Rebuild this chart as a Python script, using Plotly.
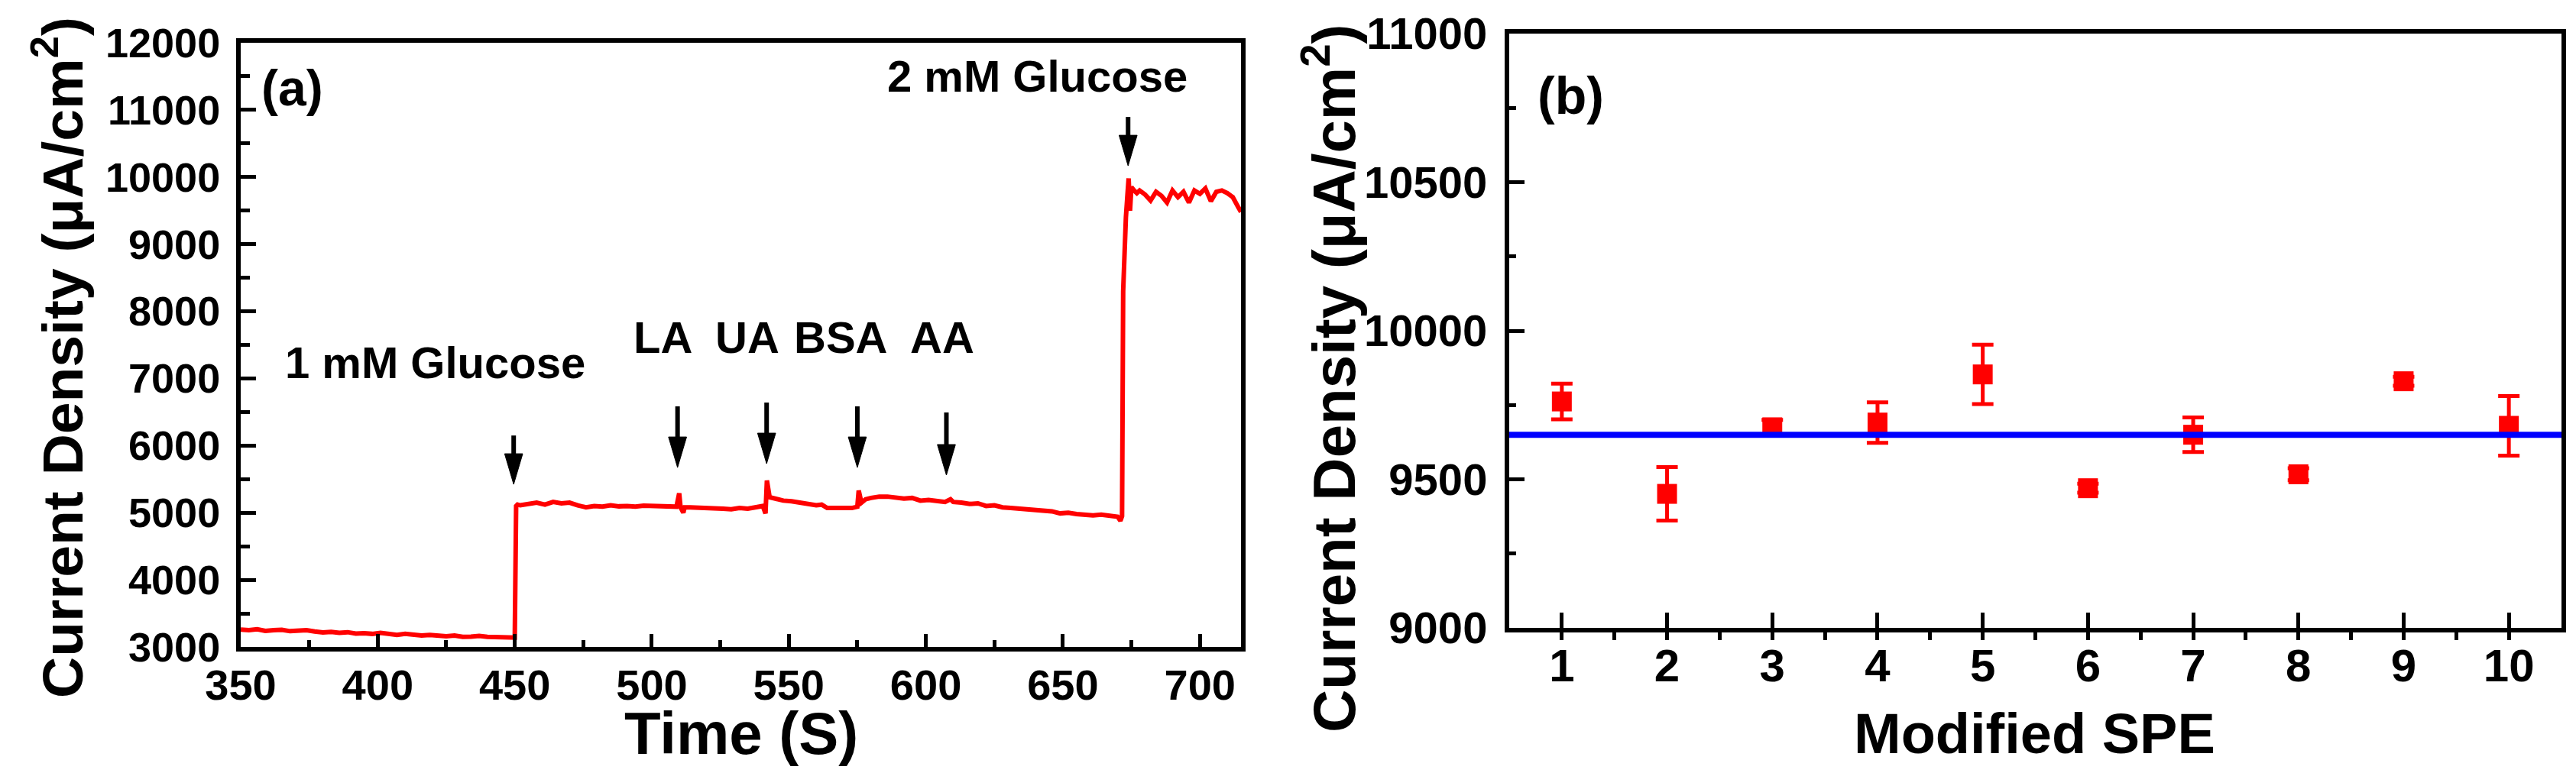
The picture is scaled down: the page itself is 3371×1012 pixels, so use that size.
import plotly.graph_objects as go

# ---- panel (a): amperometric response, time (s) vs current density ----
time_s = [350, 353, 356, 359, 362, 365, 368, 371, 374, 377, 380, 383, 386, 389, 392, 395, 398,
          401, 404, 407, 410, 413, 416, 419, 422, 425, 428, 431, 434, 437, 440, 443, 446, 449,
          450, 450.5, 451, 452, 455, 458, 461, 464, 467, 470, 473, 476, 479, 482, 485, 488,
          491, 494, 497, 500, 503, 506, 509, 510, 510.5, 511.5, 512, 514, 517, 520, 523, 526,
          529, 532, 535, 538, 540.5, 541.5, 542, 543, 545, 548, 551, 554, 557, 560, 562, 564,
          567, 570, 573, 575, 575.5, 576.5, 578, 580, 583, 586, 589, 592, 595, 598, 601, 604,
          607, 609, 610, 613, 616, 619, 622, 625, 628, 631, 634, 637, 640, 643, 646, 649, 652,
          655, 658, 661, 664, 667, 670, 671, 671.6, 672, 672.5, 673, 673.5, 674, 674.5, 675,
          676, 677, 678, 680, 682, 684, 686, 688, 690, 692, 694, 696, 698, 700, 702, 704, 706,
          708, 710, 712, 714, 715]
current_a = [3260, 3250, 3265, 3240, 3250, 3255, 3235, 3245, 3250, 3230, 3215, 3225, 3210, 3220,
             3200, 3205, 3195, 3210, 3190, 3180, 3195, 3175, 3170, 3180, 3165, 3160, 3170, 3150,
             3155, 3165, 3150, 3145, 3155, 3150, 3140, 5100, 5120, 5110, 5130, 5150, 5120, 5160,
             5140, 5150, 5110, 5080, 5100, 5090, 5110, 5095, 5100, 5090, 5105, 5100, 5095, 5100,
             5090, 5290, 5080, 5000, 5080, 5080, 5075, 5070, 5080, 5060, 5050, 5070, 5060, 5080,
             5100, 4990, 5480, 5230, 5210, 5180, 5170, 5150, 5140, 5110, 5120, 5070, 5070, 5070,
             5070, 5090, 5330, 5150, 5200, 5220, 5240, 5240, 5230, 5210, 5220, 5180, 5190, 5170,
             5160, 5200, 5160, 5150, 5130, 5140, 5100, 5110, 5080, 5070, 5060, 5050, 5040, 5030,
             5020, 4990, 5000, 4980, 4970, 4960, 4970, 4950, 4940, 4880, 4950, 8300, 9000, 9400,
             9700, 9980, 9500, 9850, 9800, 9760, 9800, 9740, 9650, 9780, 9720, 9620, 9800, 9700,
             9780, 9620, 9800, 9750, 9830, 9640, 9780, 9800, 9760, 9700, 9550, 9480]

# arrows: x position, top of shaft, tip
arrow_x = [449.6, 509.4, 541.9, 575.0, 607.5, 673.8]
arrow_top = [6150, 6584, 6641, 6584, 6493, 10895]
arrow_tip = [5423, 5673, 5730, 5673, 5560, 10167]

labels_a = ["1 mM Glucose", "LA", "UA", "BSA", "AA", "2 mM Glucose"]
labels_a_x = [421, 504, 535, 569, 606, 640.6]
labels_a_y = [7240, 7610, 7610, 7610, 7610, 11510]

# ---- panel (b): reproducibility of 10 modified SPEs ----
spe_ids = [1, 2, 3, 4, 5, 6, 7, 8, 9, 10]
spe_current = [9762, 9451, 9675, 9691, 9853, 9470, 9650, 9517, 9830, 9680]
spe_err = [60, 90, 25, 68, 100, 15, 58, 20, 15, 100]
mean_level = 9650

RED = "#ff0000"
font_fam = "Liberation Sans, Arial, sans-serif"
narrow_fam = "Liberation Sans Narrow, Arial Narrow, Liberation Sans, sans-serif"

# the page body has an 8px margin, so the figure is a bit smaller than the window
PAD = 8
W, H = 3371 - 2 * PAD, 1012 - 2 * PAD


def px_x(x):
    return (x - PAD) / W


def px_y(y):
    return 1 - (y - PAD) / H


fig = go.Figure()
fig.add_trace(go.Scatter(x=time_s, y=current_a, mode="lines",
                         line=dict(color=RED, width=6), xaxis="x", yaxis="y",
                         showlegend=False))
fig.add_trace(go.Scatter(x=spe_ids, y=spe_current, mode="markers",
                         marker=dict(symbol="square", size=26, color=RED, line=dict(width=0)),
                         error_y=dict(type="data", array=spe_err, color=RED, thickness=5, width=14),
                         xaxis="x2", yaxis="y2", showlegend=False))

shapes = []
# arrows drawn as shaft + narrow triangle head
head_len = 455   # in current-density units (~40 px)
head_half = 3.3  # in seconds (~12 px)
for xa, yt, yp in zip(arrow_x, arrow_top, arrow_tip):
    shapes.append(dict(type="line", xref="x", yref="y", x0=xa, x1=xa, y0=yt, y1=yp + head_len * 0.8,
                       line=dict(color="black", width=6)))
    shapes.append(dict(type="path", xref="x", yref="y",
                       path=f"M {xa - head_half},{yp + head_len} L {xa + head_half},{yp + head_len} L {xa},{yp} Z",
                       fillcolor="black", line=dict(color="black", width=1)))
shapes.append(dict(type="line", xref="x2 domain", yref="y2", x0=0, x1=1, y0=mean_level, y1=mean_level,
                   line=dict(color="#0000ff", width=8), layer="above"))

annotations = []
ann = dict(showarrow=False, xanchor="center", yanchor="middle")
for t, xx, yy in zip(labels_a, labels_a_x, labels_a_y):
    annotations.append(dict(text=t, x=xx, y=yy, xref="x", yref="y",
                            font=dict(family=narrow_fam, size=58, color="black", weight="bold"), **ann))
annotations.append(dict(text="(a)", x=368.9, y=11327, xref="x", yref="y",
                        font=dict(family=font_fam, size=66, color="black", weight="bold"), **ann))
annotations.append(dict(text="(b)", x=1.087, y=10792, xref="x2", yref="y2",
                        font=dict(family=font_fam, size=68, color="black", weight="bold"), **ann))
# axis titles
annotations.append(dict(text="Current Density (μA/cm<sup>2</sup>)", x=px_x(76), y=px_y(468),
                        xref="paper", yref="paper", textangle=-90,
                        font=dict(family=font_fam, size=75, color="black", weight="bold"), **ann))
annotations.append(dict(text="Current Density (μA/cm<sup>2</sup>)", x=px_x(1740), y=px_y(495),
                        xref="paper", yref="paper", textangle=-90,
                        font=dict(family=font_fam, size=78, color="black", weight="bold"), **ann))
annotations.append(dict(text="Time (S)", x=px_x(970), y=px_y(960), xref="paper", yref="paper",
                        font=dict(family=narrow_fam, size=78, color="black", weight="bold"), **ann))
annotations.append(dict(text="Modified SPE", x=px_x(2662), y=px_y(960), xref="paper", yref="paper",
                        font=dict(family=font_fam, size=74, color="black", weight="bold"), **ann))

axis_common = dict(showgrid=False, zeroline=False, showline=True, linecolor="black",
                   linewidth=6, mirror=True, ticks="inside", tickcolor="black", tickwidth=5,
                   automargin=False, tickformat="d")

fig.update_layout(
    template="none",
    width=W, height=H,
    margin=dict(l=0, r=0, t=0, b=0),
    paper_bgcolor="white", plot_bgcolor="white",
    xaxis=dict(domain=[px_x(315), px_x(1624)], range=[350, 715], anchor="y",
               tick0=350, dtick=50, ticklen=17,
               minor=dict(dtick=25, tick0=350, ticks="inside", ticklen=9, tickwidth=5, tickcolor="black"),
               tickfont=dict(family=font_fam, size=56, color="black", weight="bold"),
               ticklabelstandoff=-4, **axis_common),
    yaxis=dict(domain=[px_y(847), px_y(56)], range=[3000, 12000], anchor="x",
               tick0=3000, dtick=1000, ticklen=20,
               minor=dict(dtick=500, tick0=3000, ticks="inside", ticklen=12, tickwidth=5, tickcolor="black"),
               tickfont=dict(family=font_fam, size=54, color="black", weight="bold"),
               ticklabelstandoff=10, **axis_common),
    xaxis2=dict(domain=[px_x(1975), px_x(3352)], range=[0.5, 10.5], anchor="y2",
                tick0=1, dtick=1, ticklen=20,
                minor=dict(dtick=0.5, tick0=0.5, ticks="outside", ticklen=10, tickwidth=5, tickcolor="black"),
                tickfont=dict(family=font_fam, size=60, color="black", weight="bold"),
                ticklabelstandoff=-8, **axis_common),
    yaxis2=dict(domain=[px_y(822), px_y(44)], range=[9000, 11000], anchor="x2",
                tick0=9000, dtick=500, ticklen=20,
                minor=dict(dtick=250, tick0=9000, ticks="inside", ticklen=9, tickwidth=5, tickcolor="black"),
                tickfont=dict(family=font_fam, size=58, color="black", weight="bold"),
                ticklabelstandoff=11, **axis_common),
    shapes=shapes,
    annotations=annotations,
)

fig.write_html("out.html")
